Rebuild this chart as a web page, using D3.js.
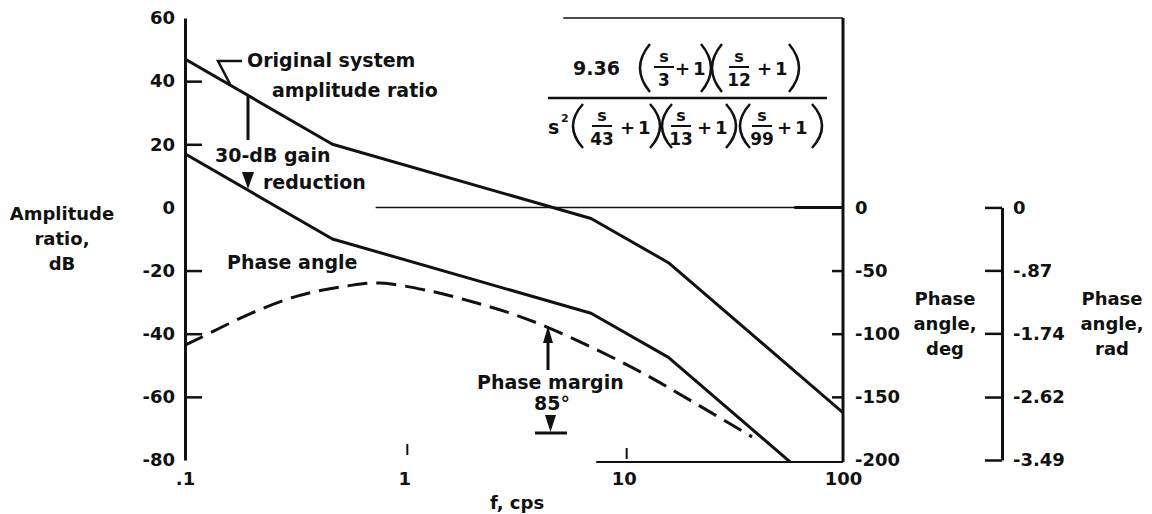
<!DOCTYPE html>
<html>
<head>
  <script src="https://d3js.org/d3.v7.min.js"></script>
  <style>
    body { margin: 0; background: #fff; }
    text { font-family: "DejaVu Sans", sans-serif; font-weight: bold; fill: #111; }
    .axis text { font-size: 18px; }
    .axis path, .axis line { stroke: #111; }
  </style>
</head>
<body>
  <script>
    // Data
    const ampFreq = [0.1, 0.47, 7.1, 16, 100];
    const ampOriginal = [47, 20, -3.5, -17.5, -65];
    const ampReduced = [17, -10, -33.5, -47.5, -95];

    const phaseFreq = [0.1, 0.117, 0.192, 0.324, 0.548, 0.775, 1.31, 2.06, 3.03, 4.47, 7.25, 12.2, 20.7, 38.5];
    const phaseDeg = [-109, -103.4, -85.2, -70.2, -62.2, -59.9, -66.2, -74.9, -83.6, -94.7, -111.3, -131.1, -154, -181.7];

    const dbTicks = [60, 40, 20, 0, -20, -40, -60, -80];
    const degTicks = [0, -50, -100, -150, -200];
    const radTicks = [0, -0.87, -1.74, -2.62, -3.49];
    const radLabels = ["0", "-.87", "-1.74", "-2.62", "-3.49"];
    const freqTicks = [0.1, 1, 10, 100];
    const freqLabels = [".1", "1", "10", "100"];

    const W = 1152, H = 514;
    const svg = d3.select("body").append("svg")
      .attr("width", W).attr("height", H);

    // Scales
    const x = d3.scaleLog().domain([0.1, 100]).range([185, 843]);
    const yDb = d3.scaleLinear().domain([-80, 60]).range([460, 18]);
    const yDeg = d3.scaleLinear().domain([-200, 0]).range([460, yDb(0)]);
    const yRad = d3.scaleLinear().domain([-3.49, 0]).range([460, yDb(0)]);

    // Left axis (dB)
    const leftAxis = svg.append("g").attr("class", "axis")
      .attr("transform", "translate(185,0)")
      .call(d3.axisLeft(yDb).tickValues(dbTicks).tickSizeInner(-17).tickSizeOuter(0)
        .tickPadding(10).tickFormat(d => String(d)));
    leftAxis.select(".domain").attr("stroke-width", 3);
    leftAxis.selectAll(".tick line").attr("stroke-width", 2.5)
      .filter(d => d === 60 || d === 0 || d === -80).remove();

    // Right axis (deg)
    svg.append("line")
      .attr("x1", x(100)).attr("x2", x(100))
      .attr("y1", yDb(60)).attr("y2", yDb(-80) + 2)
      .attr("stroke", "#111").attr("stroke-width", 3);
    const degAxis = svg.append("g").attr("class", "axis")
      .attr("transform", `translate(${x(100)},0)`)
      .call(d3.axisRight(yDeg).tickValues(degTicks).tickSizeInner(-11).tickSizeOuter(0)
        .tickPadding(12).tickFormat(d => String(d)));
    degAxis.select(".domain").remove();
    degAxis.selectAll(".tick line").attr("stroke-width", 2.5)
      .filter(d => d === 0 || d === -200).remove();

    // Far right axis (rad)
    const radAxis = svg.append("g").attr("class", "axis")
      .attr("transform", "translate(1002,0)")
      .call(d3.axisRight(yRad).tickValues(radTicks).tickSizeInner(-17).tickSizeOuter(0)
        .tickPadding(11).tickFormat((d, i) => radLabels[i]));
    radAxis.select(".domain").attr("stroke-width", 3);
    radAxis.selectAll(".tick line").attr("stroke-width", 2.5);

    // Bottom axis labels
    const bottomAxis = svg.append("g").attr("class", "axis")
      .attr("transform", `translate(0,${yDb(-80) + 2})`)
      .call(d3.axisBottom(x).tickValues(freqTicks).tickSize(0).tickPadding(10)
        .tickFormat((d, i) => freqLabels[i]));
    bottomAxis.select(".domain").remove();

    // partial base line and small tick marks, as in the scan
    svg.append("line")
      .attr("x1", x(7.5)).attr("x2", x(100))
      .attr("y1", yDb(-80) + 2).attr("y2", yDb(-80) + 2)
      .attr("stroke", "#111").attr("stroke-width", 2);
    svg.selectAll(".ftick").data([1, 10]).enter().append("line")
      .attr("x1", d => x(d) + 3).attr("x2", d => x(d) + 3)
      .attr("y1", d => d === 1 ? 444 : 448).attr("y2", d => d === 1 ? 455 : 459)
      .attr("stroke", "#111").attr("stroke-width", 2);

    svg.append("text").attr("x", 517).attr("y", 509)
      .attr("text-anchor", "middle").style("font-size", "18px").text("f, cps");

    // Frame top and zero line
    svg.append("line")
      .attr("x1", x(5.3)).attr("x2", x(100))
      .attr("y1", yDb(60)).attr("y2", yDb(60))
      .attr("stroke", "#111").attr("stroke-width", 1.5);
    svg.append("line")
      .attr("x1", x(0.74)).attr("x2", x(100))
      .attr("y1", yDb(0)).attr("y2", yDb(0))
      .attr("stroke", "#111").attr("stroke-width", 1.5);
    svg.append("line")
      .attr("x1", x(60)).attr("x2", x(100))
      .attr("y1", yDb(0)).attr("y2", yDb(0))
      .attr("stroke", "#111").attr("stroke-width", 3);

    // Curves
    svg.append("clipPath").attr("id", "plot")
      .append("rect").attr("x", 185).attr("y", 18).attr("width", 658).attr("height", 443);
    const plot = svg.append("g").attr("clip-path", "url(#plot)");

    const line = d3.line().x(d => x(d[0])).y(d => yDb(d[1]));
    [ampOriginal, ampReduced].forEach(vals => {
      plot.append("path")
        .datum(ampFreq.map((f, i) => [f, vals[i]]))
        .attr("fill", "none").attr("stroke", "#111").attr("stroke-width", 3)
        .attr("stroke-linejoin", "round")
        .attr("d", line);
    });

    plot.append("path")
      .datum(phaseFreq.map((f, i) => [f, phaseDeg[i]]))
      .attr("fill", "none").attr("stroke", "#111").attr("stroke-width", 3)
      .attr("stroke-dasharray", "20,9")
      .attr("d", d3.line().curve(d3.curveCatmullRom).x(d => x(d[0])).y(d => yDeg(d[1])));

    // Axis titles
    function label(lines, cx, y0, anchor, size) {
      const t = svg.append("text").attr("text-anchor", anchor || "middle")
        .style("font-size", (size || 18) + "px");
      lines.forEach((s, i) => {
        t.append("tspan").attr("x", cx).attr("y", y0 + i * 25).text(s);
      });
      return t;
    }
    label(["Amplitude", "ratio,", "dB"], 62, 220);
    label(["Phase", "angle,", "deg"], 945, 305);
    label(["Phase", "angle,", "rad"], 1112, 305);

    // Annotations
    label(["Original system"], 247, 67, "start", 19);
    label(["amplitude ratio"], 272, 97, "start", 19);
    label(["30-dB gain"], 215, 162, "start", 19);
    label(["reduction"], 263, 189, "start", 19);
    label(["Phase angle"], 227, 269, "start", 19);
    label(["Phase margin"], 477, 389, "start", 19);
    label(["85°"], 552, 410, "middle", 19);

    function path(d, w) {
      svg.append("path").attr("d", d).attr("stroke", "#111")
        .attr("stroke-width", w || 2.5).attr("fill", "none");
    }
    function tri(d) {
      svg.append("path").attr("d", d).attr("fill", "#111");
    }
    // leader for "Original system"
    path("M242,61 L218,61 L230,84");
    // 30-dB gain reduction arrow
    path("M248,95 L248,140", 3);
    tri("M242,172 L254,172 L248,189 Z");
    // phase margin arrows
    path("M548,370 L548,340", 3);
    tri("M543,343 L553,343 L548,326 Z");
    tri("M545,415 L556,415 L550.5,432 Z");
    path("M535,433 L567,433", 3);

    // Transfer function
    const fx = svg.append("g");
    function txt(s, xx, yy, size, anchor) {
      fx.append("text").attr("x", xx).attr("y", yy)
        .attr("text-anchor", anchor || "start").style("font-size", size + "px").text(s);
    }
    function paren(x0, top, bot, left) {
      const xe = left ? x0 + 10 : x0;
      const xc = left ? x0 - 10 : x0 + 20;
      fx.append("path")
        .attr("d", `M${xe},${top} Q${xc},${(top + bot) / 2} ${xe},${bot}`)
        .attr("stroke", "#111").attr("stroke-width", 2.5).attr("fill", "none");
    }
    function frac(cx, c, den) {
      txt("s", cx, c - 6, 16, "middle");
      fx.append("line").attr("x1", cx - 10).attr("x2", cx + 10)
        .attr("y1", c - 1).attr("y2", c - 1)
        .attr("stroke", "#111").attr("stroke-width", 2);
      txt(den, cx, c + 18, 17, "middle");
    }
    function plusOne(xx, c) {
      txt("+", xx, c + 7, 18, "start");
      txt("1", xx + 18, c + 7, 18, "start");
    }
    // numerator
    let c = 68;
    txt("9.36", 573, c + 7, 19);
    paren(640, c - 24, c + 24, true);
    frac(664, c, "3");
    plusOne(675, c);
    paren(701, c - 24, c + 24, false);
    paren(712, c - 24, c + 24, true);
    frac(739, c, "12");
    plusOne(757, c);
    paren(789, c - 24, c + 24, false);
    fx.append("line").attr("x1", 548).attr("x2", 827).attr("y1", 98).attr("y2", 98)
      .attr("stroke", "#111").attr("stroke-width", 2.5);
    // denominator
    c = 127;
    txt("s", 548, c + 7, 19);
    txt("2", 561, c - 5, 11);
    paren(573, c - 23, c + 21, true);
    frac(602, c, "43");
    plusOne(620, c);
    paren(650, c - 23, c + 21, false);
    paren(662, c - 23, c + 21, true);
    frac(681, c, "13");
    plusOne(697, c);
    paren(726, c - 23, c + 21, false);
    paren(740, c - 23, c + 21, true);
    frac(762, c, "99");
    plusOne(777, c);
    paren(812, c - 23, c + 21, false);
  </script>
</body>
</html>
